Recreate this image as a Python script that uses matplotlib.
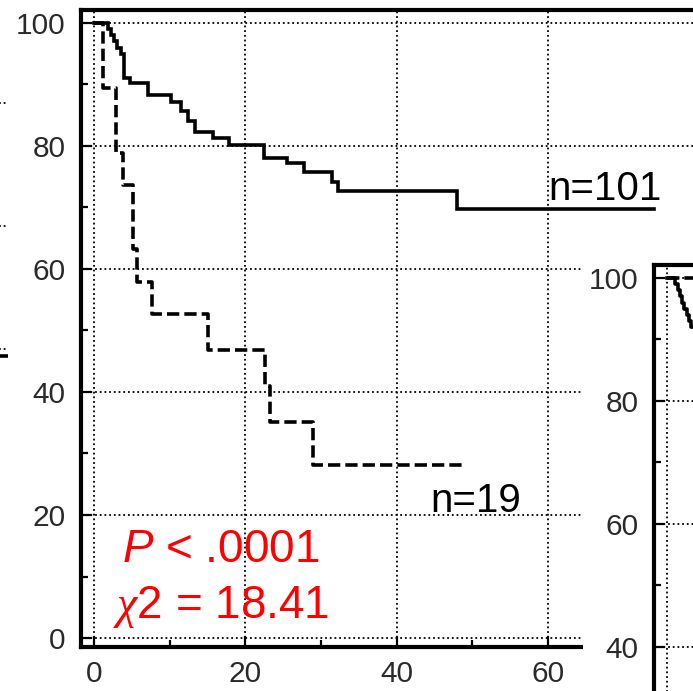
import matplotlib
matplotlib.use('Agg')
import matplotlib.pyplot as plt
from matplotlib.patches import Rectangle
from matplotlib.ticker import MultipleLocator, FixedLocator, FixedFormatter

# ---------------- data ----------------
# Kaplan-Meier curve, n=101 (solid)
solid_t = [0, 1.9, 2.3, 2.7, 3.1, 3.6, 3.95, 4.7, 7.1, 10.2, 11.5, 12.4, 13.3, 15.7, 17.9,
           22.4, 25.5, 27.7, 31.4, 32.3, 48.0, 74.0]
solid_s = [100, 99, 98, 97, 96, 95, 91.0, 90.2, 88.3, 87.2, 85.6, 84.0, 82.3, 81.3, 80.2,
           78.1, 77.2, 75.7, 74.2, 72.7, 69.7, 69.7]

# Kaplan-Meier curve, n=19 (dashed)
dashed_t = [0, 1.2, 2.9, 3.8, 5.2, 5.7, 7.6, 15.1, 22.6, 23.2, 28.9, 49.2]
dashed_s = [100, 89.5, 78.9, 73.7, 63.2, 57.9, 52.6, 46.8, 40.9, 35.1, 28.1, 28.1]

# visible part of the neighbouring (cropped) panel on the right
inset_solid_t = [0, 1.1, 1.4, 1.7, 2.0, 2.3, 2.6, 2.9, 3.2, 3.6]
inset_solid_s = [100, 99, 98, 97, 96, 95, 94, 93, 92, 92]
inset_dashed_t = [0, 6.0]
inset_dashed_s = [100, 100]

# visible sliver of the cropped panel on the left
left_grid_levels = [60, 80, 100]
left_tail_level = [58.8, 58.8]
left_tail_t = [0.0, 1.0]

x_ticks = [0, 20, 40, 60]
y_ticks = [0, 20, 40, 60, 80, 100]
y_tick_labels = ["0", "20", "40", "60", "80", "100"]
inset_y_tick_labels = ["", "", "40", "60", "80", "100"]
label_101 = "n=101"
label_19 = "n=19"
p_text = r"$\mathsf{P}$ < .0001"
chi_text = r"$\chi$2 = 18.41"

# ---------------- style ----------------
plt.rcParams['font.family'] = ['Liberation Sans', 'DejaVu Sans']
plt.rcParams['mathtext.fontset'] = 'custom'
plt.rcParams['mathtext.sf'] = 'Liberation Sans:italic'
plt.rcParams['mathtext.it'] = 'Liberation Serif:italic'
plt.rcParams['mathtext.rm'] = 'Liberation Sans'

W, H = 693, 691
fig = plt.figure(figsize=(W / 100, H / 100), dpi=100)
fig.patch.set_facecolor('white')


def px_rect(left, top, width, height):
    return [left / W, 1 - (top + height) / H, width / W, height / H]


XLIM = (-1.72, 93.3)
YLIM = (-1.46, 102.1)
GRID_LS = (0, (1, 1.6))
LW = 2.6


def style_axes(ax, ylabels):
    ax.set_xlim(*XLIM)
    ax.set_ylim(*YLIM)
    ax.xaxis.set_major_locator(FixedLocator(x_ticks))
    ax.yaxis.set_major_locator(FixedLocator(y_ticks))
    ax.yaxis.set_major_formatter(FixedFormatter(ylabels))
    ax.xaxis.set_minor_locator(MultipleLocator(10))
    ax.yaxis.set_minor_locator(MultipleLocator(10))
    ax.grid(True, which='major', linestyle=GRID_LS, color='black', lw=1.3)
    ax.set_axisbelow(True)
    for s in ax.spines.values():
        s.set_linewidth(3.0)
        s.set_color('black')
    ax.tick_params(which='major', direction='in', length=8, width=1.6,
                   labelsize=21.5, labelcolor='#2a2a2a', color='black')
    ax.tick_params(which='minor', direction='in', length=5, width=1.6, color='black')
    ax.tick_params(axis='y', which='major', pad=11)
    ax.tick_params(axis='x', which='major', pad=9)
    ax.tick_params(top=False, right=False, which='both')


# sliver of the panel cropped on the left
axl = fig.add_axes(px_rect(-700, 90, 708, 637))
axl.set_xlim(0, 1)
axl.set_ylim(*YLIM)
axl.yaxis.set_major_locator(FixedLocator(left_grid_levels))
axl.xaxis.set_major_locator(FixedLocator([]))
axl.grid(True, axis='y', linestyle=GRID_LS, color='black', lw=1.3)
axl.tick_params(left=False, labelleft=False, bottom=False, labelbottom=False)
for s in axl.spines.values():
    s.set_visible(False)
axl.plot(left_tail_t, left_tail_level, color='black', lw=LW)

# main panel
ax = fig.add_axes(px_rect(81, 10, 719, 637))
style_axes(ax, y_tick_labels)
ax.step(solid_t, solid_s, where='post', color='black', lw=LW, solid_joinstyle='miter', zorder=3)
ax.step(dashed_t, dashed_s, where='post', color='black', lw=LW,
        linestyle=(0, (3.4, 1.4)), dash_capstyle='butt', zorder=3)

ax.text(60.0, 71.2, label_101, fontsize=29, ha='left', va='baseline', color='black')
ax.text(44.4, 20.5, label_19, fontsize=29, ha='left', va='baseline', color='black')
ax.text(16.8, 12.4, p_text, fontsize=33, ha='center', va='baseline', color='#ff0000')
ax.text(16.8, 3.25, chi_text, fontsize=33, ha='center', va='baseline', color='#ff0000')

# white backdrop of the neighbouring panel
fig.patches.append(Rectangle((583 / W, 0), 1 - 583 / W, 1 - 255 / H,
                             transform=fig.transFigure, facecolor='white',
                             edgecolor='none', zorder=1))

# neighbouring panel on the right (cropped at the figure edge)
ax2 = fig.add_axes(px_rect(654, 265, 719, 637))
ax2.set_zorder(2)
style_axes(ax2, inset_y_tick_labels)
ax2.tick_params(labelbottom=False)
ax2.step(inset_solid_t, inset_solid_s, where='post', color='black', lw=LW, zorder=3)
ax2.step(inset_dashed_t, inset_dashed_s, where='post', color='black', lw=LW,
         linestyle=(0, (3.4, 1.4)), zorder=3)

fig.savefig('out.png', dpi=100)
